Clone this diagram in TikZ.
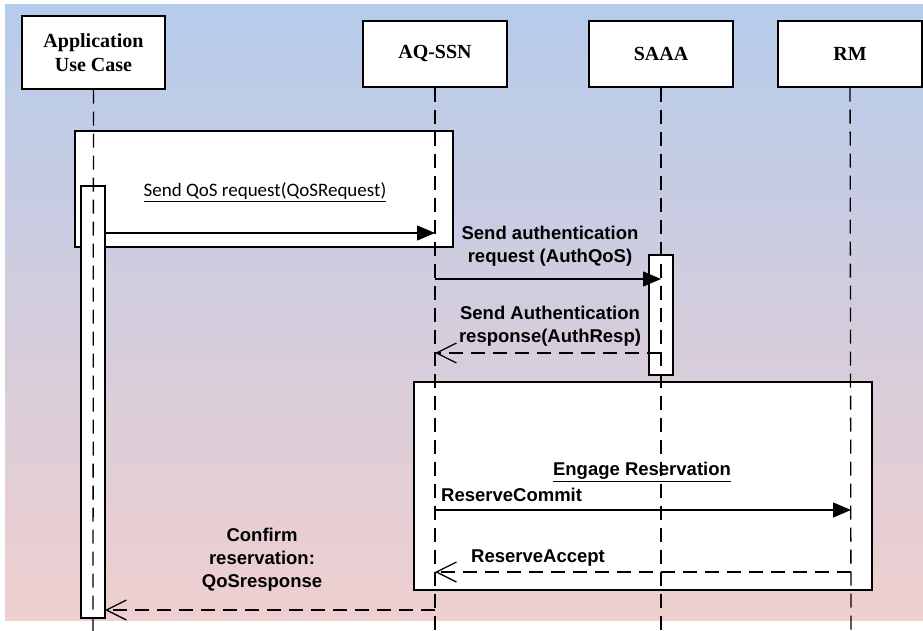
\documentclass[tikz,border=0pt]{standalone}
\usepackage{fontspec}
\setmainfont{Liberation Serif}
\setsansfont{Liberation Sans}
\newfontfamily\calfont{Carlito}
\usepackage{tikz}
\usetikzlibrary{arrows.meta,backgrounds}
\definecolor{bgtop}{RGB}{182,203,235}
\definecolor{bgmid}{RGB}{206,202,226}
\definecolor{bgbot}{RGB}{239,207,207}
\newcommand{\linew}{1.3pt}
\newcommand{\headfont}{\bfseries\fontsize{20}{24}\selectfont}
\newcommand{\msgfont}{\sffamily\bfseries\fontsize{18.5}{23}\selectfont}

\begin{document}
\begin{tikzpicture}[x=1pt,y=-1pt,
  head/.style={draw, fill=white, line width=\linew, align=center, font=\headfont, minimum width=144pt, minimum height=66pt, inner sep=0pt},
  frame/.style={draw, fill=white, line width=\linew, inner sep=0pt},
  act/.style={draw, fill=white, line width=\linew, inner sep=0pt, minimum width=24pt},
  life/.style={line width=\linew, dash pattern=on 14pt off 8pt},
  call/.style={line width=\linew, -{Triangle[length=18pt,width=15pt]}},
  reply/.style={line width=\linew, dash pattern=on 14pt off 8pt, -{Straight Barb[length=20pt,width=20pt]}},
  msg/.style={font=\msgfont, align=center, inner sep=0pt}]
\useasboundingbox (0,0) rectangle (923,631);
%background
\fill[white] (0,0) rectangle (923,631);
\shade[top color=bgtop, middle color=bgmid, bottom color=bgbot] (5,5) rectangle (923,620);
%heads
\node[head, minimum width=143pt, minimum height=73pt] (app) at (93.5,52.5) {Application\\Use Case};
\node[head] (aqssn) at (435,54) {AQ-SSN};
\node[head] (saaa) at (661,54) {SAAA};
\node[head] (rm) at (850,54) {RM};
%frames
\node[frame, minimum width=378pt, minimum height=116pt] (qosframe) at (264,189) {};
\node[frame, minimum width=458pt, minimum height=208pt] (resframe) at (643,486) {};
%activations
\node[act, minimum height=432pt] (appact) at (93,402) {};
\node[act, minimum height=120pt] (saaaact) at (661,315) {};
%lifelines
\coordinate (app-end) at (93,631);
\coordinate (aqssn-end) at (435,631);
\coordinate (saaa-end) at (661,631);
\coordinate (rm-end) at (851,631);
\draw[life] (app) -- (app-end);
\draw[life] (aqssn) -- (aqssn-end);
\draw[life] (saaa) -- (saaa-end);
\draw[life] (rm) -- (rm-end);
%message ends
\coordinate (qos-a) at (105,233);
\coordinate (qos-b) at (435,233);
\coordinate (auth-a) at (435,279);
\coordinate (auth-b) at (661,279);
\coordinate (resp-a) at (661,353);
\coordinate (resp-b) at (435,353);
\coordinate (commit-a) at (435,510);
\coordinate (commit-b) at (851,510);
\coordinate (accept-a) at (851,572);
\coordinate (accept-b) at (435,572);
\coordinate (confirm-a) at (435,610);
\coordinate (confirm-b) at (105,610);
%messages
\draw[call] (qos-a) -- (qos-b);
\draw[call] (auth-a) -- (auth-b);
\draw[reply] (resp-a) -- (resp-b);
\draw[call] (commit-a) -- (commit-b);
\draw[reply] (accept-a) -- (accept-b);
\draw[reply] (confirm-a) -- (confirm-b);
%labels
\node[inner sep=0pt, font=\calfont\fontsize{19}{23}\selectfont] (qoslabel) at (265,192) {\underline{Send QoS request(QoSRequest)}};
\node[msg] (authlabel) at (550,246) {Send authentication\\request (AuthQoS)};
\node[msg] (resplabel) at (550,326) {Send Authentication\\response(AuthResp)};
\node[msg] (engagelabel) at (642,472) {\underline{Engage Reservation}};
\node[msg, anchor=west] (commitlabel) at (441,495) {ReserveCommit};
\node[msg, anchor=west] (acceptlabel) at (471,558) {ReserveAccept};
\node[msg] (confirmlabel) at (262,560) {Confirm\\reservation:\\QoSresponse};
\end{tikzpicture}
\end{document}
